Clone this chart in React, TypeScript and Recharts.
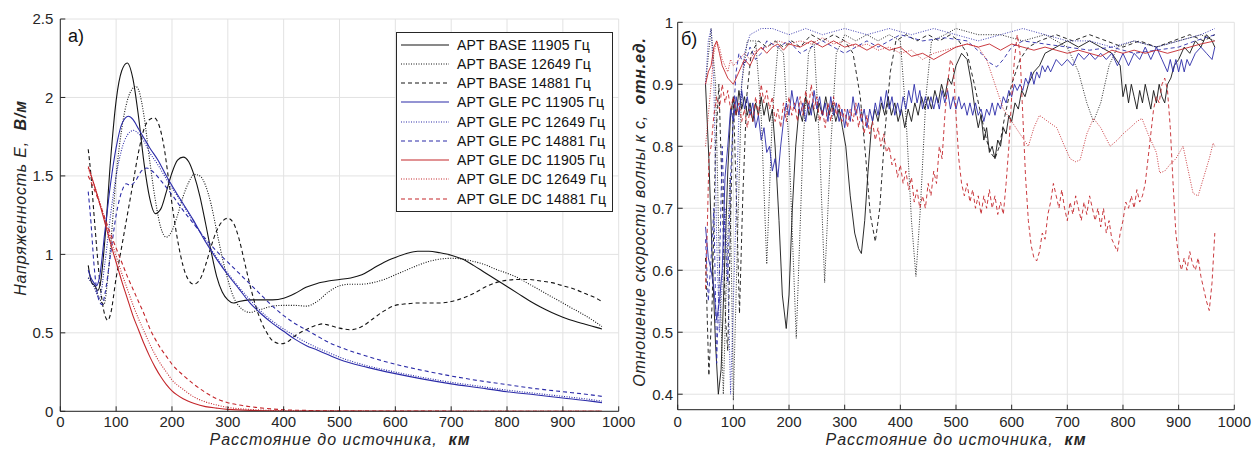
import { LineChart, Line, XAxis, YAxis, CartesianGrid } from 'recharts';

type Pt = [number, number];

const FONT = '"Liberation Sans", Arial, Helvetica, sans-serif';
const INK = '#262626';
const GRID = '#e2e2e2';
const BLACK = '#141414';
const BLUE = '#2b2ba8';
const RED = '#c4262b';

const KM_TICKS = [0, 100, 200, 300, 400, 500, 600, 700, 800, 900, 1000];
const E_TICKS = [0, 0.5, 1, 1.5, 2, 2.5];
const V_TICKS = [0.4, 0.5, 0.6, 0.7, 0.8, 0.9, 1];

const SERIES_NAMES = [
  'APT BASE 11905 Гц',
  'APT BASE 12649 Гц',
  'APT BASE 14881 Гц',
  'APT GLE PC 11905 Гц',
  'APT GLE PC 12649 Гц',
  'APT GLE PC 14881 Гц',
  'APT GLE DC 11905 Гц',
  'APT GLE DC 12649 Гц',
  'APT GLE DC 14881 Гц',
];
const SERIES_COLORS = [BLACK, BLACK, BLACK, BLUE, BLUE, BLUE, RED, RED, RED];
const SERIES_DASH = ['', '1 1.5', '4 3', '', '1 1.5', '4 3', '', '1 1.5', '4 3'];

// а) field strength E, V/m  [km, value]
const E_BASE_11905: Pt[] = [[50,0.93],[56,0.82],[62,0.8],[67,0.77],[72,0.82],[80,1.1],[90,1.6],[100,1.98],[110,2.17],[120,2.22],[130,2.12],[140,1.88],[150,1.58],[160,1.36],[170,1.26],[180,1.29],[190,1.4],[200,1.52],[210,1.6],[220,1.62],[230,1.59],[240,1.5],[250,1.37],[260,1.2],[270,1.02],[280,0.86],[290,0.76],[300,0.71],[310,0.69],[320,0.7],[340,0.71],[360,0.71],[380,0.71],[400,0.72],[420,0.75],[440,0.79],[460,0.815],[480,0.83],[500,0.84],[520,0.85],[540,0.87],[560,0.91],[580,0.95],[600,0.98],[620,1.005],[640,1.02],[660,1.02],[680,1.01],[700,0.995],[720,0.97],[740,0.93],[760,0.885],[780,0.84],[800,0.795],[820,0.75],[840,0.705],[860,0.665],[880,0.63],[900,0.6],[920,0.575],[940,0.555],[960,0.535],[970,0.525]];
const E_BASE_12649: Pt[] = [[50,0.85],[60,0.8],[70,0.72],[78,0.68],[85,0.85],[90,1.05],[100,1.5],[110,1.8],[120,1.98],[130,2.06],[135,2.07],[140,2.05],[150,1.88],[160,1.6],[170,1.35],[180,1.17],[190,1.11],[200,1.15],[210,1.25],[220,1.37],[230,1.46],[240,1.51],[250,1.5],[260,1.44],[270,1.32],[280,1.15],[290,0.98],[300,0.84],[310,0.73],[320,0.67],[330,0.64],[340,0.63],[350,0.64],[360,0.65],[380,0.67],[400,0.675],[420,0.675],[440,0.67],[460,0.7],[480,0.76],[500,0.8],[520,0.81],[540,0.81],[560,0.82],[580,0.84],[600,0.87],[620,0.9],[640,0.93],[660,0.955],[680,0.97],[700,0.975],[720,0.97],[740,0.955],[760,0.935],[780,0.905],[800,0.88],[820,0.85],[840,0.81],[860,0.77],[880,0.73],[900,0.69],[920,0.65],[940,0.61],[960,0.565],[970,0.54]];
const E_BASE_14881: Pt[] = [[50,1.67],[55,1.5],[60,1.27],[65,1.05],[70,0.85],[75,0.7],[80,0.61],[85,0.58],[90,0.62],[100,0.85],[110,1.05],[120,1.25],[130,1.45],[140,1.65],[150,1.8],[160,1.86],[168,1.87],[175,1.84],[185,1.7],[195,1.45],[205,1.2],[215,1.0],[225,0.87],[239,0.81],[250,0.84],[260,0.93],[270,1.05],[280,1.15],[290,1.21],[300,1.23],[310,1.2],[320,1.1],[330,0.95],[340,0.8],[350,0.67],[360,0.57],[370,0.5],[380,0.45],[395,0.43],[410,0.45],[420,0.48],[440,0.52],[460,0.55],[470,0.557],[480,0.55],[500,0.53],[520,0.52],[540,0.54],[560,0.59],[580,0.64],[600,0.675],[620,0.685],[640,0.69],[660,0.69],[680,0.69],[700,0.7],[720,0.72],[740,0.75],[760,0.79],[780,0.82],[800,0.835],[820,0.84],[840,0.84],[860,0.83],[880,0.82],[900,0.8],[920,0.78],[940,0.75],[960,0.72],[970,0.7]];
const E_PC_11905: Pt[] = [[50,0.9],[55,0.85],[60,0.82],[65,0.8],[70,0.85],[80,1.15],[90,1.45],[100,1.68],[110,1.83],[122,1.88],[130,1.86],[140,1.8],[150,1.74],[160,1.68],[175,1.6],[190,1.5],[210,1.38],[238,1.22],[260,1.08],[280,0.97],[300,0.87],[320,0.78],[340,0.69],[360,0.62],[380,0.56],[400,0.51],[420,0.46],[440,0.42],[460,0.39],[480,0.36],[500,0.33],[550,0.28],[600,0.24],[650,0.205],[700,0.175],[750,0.15],[800,0.125],[850,0.105],[900,0.085],[950,0.065],[970,0.055]];
const E_PC_12649: Pt[] = [[50,0.85],[60,0.8],[70,0.72],[80,0.95],[90,1.25],[100,1.5],[110,1.67],[120,1.76],[131,1.79],[140,1.77],[150,1.72],[160,1.65],[175,1.57],[190,1.48],[210,1.37],[240,1.2],[260,1.09],[280,0.98],[300,0.88],[320,0.79],[340,0.71],[360,0.635],[380,0.575],[400,0.525],[420,0.48],[440,0.44],[460,0.405],[480,0.375],[500,0.345],[550,0.29],[600,0.25],[650,0.215],[700,0.185],[750,0.16],[800,0.135],[850,0.115],[900,0.095],[950,0.075],[970,0.065]];
const E_PC_14881: Pt[] = [[50,1.4],[55,1.2],[60,0.95],[65,0.78],[70,0.7],[75,0.68],[80,0.75],[90,1.0],[100,1.25],[110,1.4],[118,1.45],[125,1.44],[135,1.47],[145,1.53],[155,1.55],[165,1.53],[180,1.47],[200,1.38],[220,1.28],[240,1.19],[260,1.1],[280,1.02],[300,0.95],[320,0.88],[340,0.81],[360,0.74],[380,0.67],[400,0.61],[420,0.56],[440,0.52],[460,0.48],[480,0.44],[500,0.41],[550,0.35],[600,0.3],[650,0.26],[700,0.225],[750,0.195],[800,0.17],[850,0.145],[900,0.125],[950,0.105],[970,0.095]];
const E_DC_11905: Pt[] = [[50,1.56],[60,1.45],[70,1.33],[80,1.2],[90,1.07],[100,0.95],[110,0.83],[120,0.72],[130,0.61],[140,0.52],[150,0.43],[160,0.35],[170,0.28],[180,0.22],[190,0.17],[200,0.13],[220,0.08],[240,0.05],[260,0.03],[280,0.02],[300,0.012],[350,0.005],[400,0.002],[500,0.001],[970,0]];
const E_DC_12649: Pt[] = [[50,1.55],[60,1.45],[70,1.34],[80,1.22],[90,1.1],[100,0.99],[110,0.88],[120,0.78],[130,0.68],[140,0.59],[150,0.51],[160,0.43],[170,0.36],[180,0.3],[190,0.25],[200,0.2],[220,0.14],[240,0.09],[260,0.06],[280,0.04],[300,0.025],[350,0.01],[400,0.004],[500,0.001],[970,0]];
const E_DC_14881: Pt[] = [[50,1.5],[60,1.42],[70,1.33],[80,1.23],[90,1.13],[100,1.04],[110,0.95],[120,0.86],[130,0.78],[140,0.7],[150,0.62],[160,0.53],[170,0.46],[180,0.4],[190,0.35],[200,0.3],[220,0.23],[240,0.17],[260,0.12],[280,0.08],[300,0.055],[320,0.04],[350,0.025],[400,0.01],[450,0.005],[500,0.002],[970,0]];

// б) wave velocity ratio to c  [km, value]
const V_BASE_11905: Pt[] = [[50,0.9],[56,0.78],[62,0.62],[68,0.48],[73,0.4],[78,0.44],[84,0.6],[90,0.76],[95,0.85],[100,0.88],[105,0.85],[110,0.89],[115,0.86],[120,0.88],[125,0.85],[130,0.87],[135,0.84],[140,0.87],[145,0.85],[150,0.88],[155,0.85],[160,0.87],[165,0.84],[170,0.86],[175,0.8],[182,0.68],[188,0.56],[195,0.506],[200,0.56],[206,0.7],[212,0.8],[218,0.86],[224,0.84],[230,0.88],[236,0.85],[242,0.87],[248,0.84],[254,0.87],[260,0.85],[266,0.88],[272,0.85],[278,0.87],[284,0.84],[290,0.86],[296,0.83],[302,0.8],[310,0.72],[318,0.66],[325,0.635],[330,0.627],[336,0.68],[342,0.76],[348,0.83],[354,0.86],[360,0.84],[366,0.87],[372,0.85],[378,0.88],[384,0.85],[390,0.87],[396,0.84],[402,0.86],[408,0.83],[414,0.86],[420,0.84],[426,0.87],[432,0.85],[438,0.88],[444,0.86],[450,0.88],[456,0.86],[462,0.89],[468,0.87],[474,0.9],[480,0.88],[486,0.91],[492,0.9],[500,0.93],[510,0.95],[520,0.94],[528,0.9],[534,0.86],[540,0.83],[545,0.85],[550,0.81],[555,0.83],[560,0.79],[565,0.8],[570,0.78],[575,0.81],[580,0.8],[585,0.83],[590,0.82],[595,0.85],[600,0.84],[606,0.87],[612,0.86],[618,0.89],[624,0.88],[630,0.9],[640,0.92],[650,0.93],[660,0.95],[680,0.96],[700,0.97],[720,0.96],[740,0.97],[760,0.96],[780,0.95],[795,0.93],[800,0.88],[805,0.9],[810,0.87],[815,0.9],[820,0.88],[825,0.86],[830,0.89],[835,0.87],[840,0.9],[845,0.88],[850,0.86],[855,0.89],[860,0.87],[865,0.9],[870,0.88],[875,0.87],[880,0.9],[886,0.91],[892,0.93],[900,0.94],[910,0.96],[920,0.95],[930,0.97],[940,0.96],[950,0.98],[960,0.97],[965,0.96]];
const V_BASE_12649: Pt[] = [[50,0.9],[60,0.99],[68,0.9],[75,0.6],[82,0.4],[88,0.6],[94,0.75],[100,0.39],[106,0.6],[115,0.9],[125,0.97],[140,0.97],[150,0.85],[160,0.61],[170,0.85],[180,0.96],[190,0.95],[200,0.8],[213,0.49],[225,0.8],[235,0.95],[245,0.97],[255,0.8],[264,0.58],[275,0.8],[285,0.95],[300,0.98],[320,0.97],[340,0.98],[360,0.97],[380,0.98],[400,0.97],[410,0.85],[420,0.68],[428,0.59],[436,0.7],[446,0.88],[456,0.97],[480,0.98],[500,0.99],[540,0.98],[580,0.98],[620,0.97],[660,0.98],[700,0.96],[720,0.92],[735,0.87],[747,0.84],[760,0.87],[775,0.93],[790,0.96],[820,0.97],[860,0.96],[900,0.97],[940,0.98],[965,0.97]];
const V_BASE_14881: Pt[] = [[50,0.62],[56,0.43],[62,0.55],[68,0.8],[74,0.9],[80,0.72],[86,0.52],[90,0.47],[95,0.68],[100,0.88],[106,0.7],[111,0.53],[117,0.72],[124,0.88],[132,0.95],[145,0.97],[160,0.96],[175,0.97],[190,0.96],[205,0.97],[220,0.96],[240,0.98],[260,0.97],[280,0.98],[300,0.97],[315,0.95],[328,0.88],[338,0.78],[346,0.69],[355,0.646],[363,0.7],[372,0.82],[382,0.92],[392,0.97],[410,0.98],[430,0.97],[450,0.98],[470,0.97],[490,0.98],[505,0.97],[520,0.95],[533,0.9],[545,0.85],[555,0.81],[562,0.79],[570,0.78],[578,0.8],[588,0.85],[600,0.9],[615,0.94],[630,0.96],[650,0.97],[680,0.98],[710,0.97],[740,0.98],[770,0.97],[800,0.96],[830,0.97],[860,0.96],[890,0.97],[920,0.98],[945,0.97],[965,0.98]];
const V_PC_11905: Pt[] = [[50,0.67],[55,0.62],[60,0.6],[65,0.57],[70,0.52],[75,0.55],[80,0.6],[85,0.75],[90,0.8],[95,0.86],[100,0.84],[105,0.88],[110,0.85],[115,0.89],[120,0.86],[125,0.88],[130,0.85],[135,0.87],[140,0.83],[145,0.85],[150,0.81],[155,0.83],[160,0.79],[165,0.8],[170,0.76],[175,0.78],[180,0.75],[185,0.8],[190,0.84],[195,0.87],[200,0.85],[205,0.89],[210,0.86],[215,0.88],[220,0.85],[225,0.87],[230,0.84],[235,0.87],[240,0.85],[245,0.89],[250,0.86],[255,0.88],[260,0.85],[265,0.87],[270,0.84],[275,0.88],[280,0.85],[285,0.87],[290,0.84],[295,0.86],[300,0.83],[305,0.86],[310,0.84],[315,0.88],[320,0.85],[325,0.87],[330,0.84],[335,0.86],[340,0.83],[345,0.86],[350,0.84],[355,0.87],[360,0.85],[365,0.88],[370,0.86],[375,0.89],[380,0.86],[385,0.88],[390,0.85],[395,0.87],[400,0.85],[405,0.88],[410,0.86],[415,0.89],[420,0.87],[425,0.9],[430,0.87],[435,0.89],[440,0.86],[445,0.88],[450,0.86],[455,0.88],[460,0.86],[465,0.88],[470,0.86],[475,0.89],[480,0.87],[485,0.89],[490,0.86],[495,0.88],[500,0.86],[505,0.88],[510,0.86],[515,0.87],[520,0.85],[525,0.87],[530,0.85],[535,0.87],[540,0.85],[545,0.86],[550,0.84],[555,0.86],[560,0.85],[565,0.87],[570,0.85],[575,0.87],[580,0.86],[585,0.88],[590,0.87],[595,0.89],[600,0.88],[605,0.9],[610,0.89],[615,0.9],[620,0.89],[625,0.91],[630,0.9],[635,0.92],[640,0.9],[645,0.92],[650,0.91],[655,0.93],[660,0.92],[665,0.93],[670,0.92],[680,0.94],[690,0.93],[700,0.94],[710,0.93],[720,0.95],[730,0.94],[740,0.95],[750,0.94],[760,0.95],[770,0.94],[780,0.95],[790,0.93],[800,0.95],[810,0.93],[820,0.95],[830,0.94],[840,0.96],[850,0.94],[860,0.96],[870,0.94],[880,0.92],[885,0.94],[890,0.92],[895,0.94],[900,0.92],[905,0.94],[910,0.92],[915,0.94],[920,0.93],[930,0.95],[940,0.96],[950,0.95],[960,0.94],[965,0.96]];
const V_PC_12649: Pt[] = [[50,0.9],[55,0.97],[60,0.99],[65,0.9],[70,0.65],[75,0.5],[80,0.58],[85,0.7],[90,0.6],[95,0.4],[100,0.55],[110,0.85],[120,0.95],[130,0.98],[150,0.99],[170,0.99],[200,0.98],[230,0.99],[260,0.98],[300,0.99],[340,0.98],[380,0.99],[420,0.98],[460,0.99],[500,0.98],[540,0.97],[580,0.98],[620,0.99],[660,0.98],[700,0.97],[740,0.97],[780,0.96],[820,0.97],[860,0.96],[900,0.97],[940,0.98],[965,0.99]];
const V_PC_14881: Pt[] = [[50,0.65],[55,0.55],[60,0.62],[65,0.7],[70,0.45],[75,0.6],[80,0.8],[85,0.65],[90,0.58],[95,0.75],[100,0.85],[105,0.92],[110,0.95],[120,0.93],[130,0.96],[140,0.94],[150,0.95],[160,0.97],[180,0.96],[200,0.97],[220,0.95],[240,0.96],[260,0.97],[280,0.96],[300,0.95],[320,0.96],[340,0.97],[360,0.96],[380,0.97],[400,0.98],[440,0.97],[480,0.975],[520,0.97],[545,0.95],[560,0.935],[573,0.928],[585,0.94],[600,0.96],[620,0.97],[660,0.965],[700,0.96],[740,0.955],[780,0.96],[820,0.95],[860,0.955],[900,0.96],[930,0.97],[965,0.98]];
const V_DC_11905: Pt[] = [[50,0.9],[55,0.92],[60,0.93],[65,0.96],[70,0.97],[75,0.95],[80,0.93],[90,0.91],[100,0.9],[110,0.92],[120,0.94],[130,0.93],[140,0.95],[150,0.96],[160,0.95],[170,0.96],[180,0.965],[190,0.955],[200,0.965],[220,0.96],[240,0.97],[260,0.96],[280,0.97],[300,0.96],[320,0.965],[340,0.955],[360,0.965],[380,0.955],[400,0.96],[420,0.945],[440,0.95],[460,0.94],[480,0.95],[500,0.96],[520,0.965],[540,0.96],[560,0.965],[580,0.955],[600,0.965],[620,0.96],[640,0.955],[660,0.96],[680,0.955],[700,0.95],[720,0.955],[740,0.95],[760,0.945],[780,0.955],[800,0.95],[820,0.955],[840,0.95],[860,0.955],[880,0.95],[900,0.955],[920,0.96],[940,0.965],[965,0.97]];
const V_DC_12649: Pt[] = [[50,0.8],[55,0.85],[60,0.9],[65,0.95],[70,0.97],[75,0.96],[80,0.94],[85,0.93],[90,0.92],[95,0.94],[100,0.93],[110,0.94],[120,0.95],[130,0.94],[140,0.955],[160,0.96],[180,0.97],[200,0.965],[220,0.97],[240,0.965],[260,0.975],[280,0.965],[300,0.97],[320,0.96],[340,0.965],[360,0.955],[380,0.96],[400,0.95],[420,0.955],[440,0.94],[460,0.95],[480,0.955],[500,0.96],[520,0.965],[540,0.96],[555,0.94],[570,0.9],[585,0.86],[600,0.84],[615,0.82],[630,0.8],[640,0.83],[650,0.85],[665,0.84],[681,0.83],[695,0.8],[705,0.78],[715,0.775],[723,0.778],[735,0.82],[747,0.845],[760,0.83],[777,0.8],[790,0.81],[800,0.82],[813,0.83],[825,0.84],[834,0.845],[845,0.82],[860,0.79],[866,0.757],[875,0.76],[884,0.77],[895,0.78],[908,0.8],[915,0.77],[926,0.724],[935,0.72],[945,0.75],[955,0.78],[962,0.805],[965,0.8]];
const V_DC_14881: Pt[] = [[50,0.57],[53,0.66],[56,0.78],[60,0.8],[65,0.85],[70,0.88],[75,0.86],[80,0.9],[85,0.87],[90,0.89],[95,0.86],[100,0.88],[105,0.85],[110,0.87],[115,0.84],[120,0.86],[125,0.83],[130,0.86],[135,0.84],[140,0.88],[145,0.85],[150,0.9],[155,0.87],[160,0.89],[165,0.86],[170,0.88],[175,0.84],[180,0.86],[185,0.83],[190,0.87],[195,0.84],[200,0.88],[205,0.85],[210,0.87],[215,0.84],[220,0.88],[225,0.85],[230,0.89],[235,0.86],[240,0.9],[245,0.86],[250,0.88],[255,0.84],[260,0.86],[265,0.83],[270,0.87],[275,0.84],[280,0.88],[285,0.85],[290,0.87],[295,0.84],[300,0.86],[305,0.83],[310,0.86],[315,0.84],[320,0.87],[325,0.83],[330,0.86],[335,0.82],[340,0.85],[345,0.82],[350,0.84],[355,0.81],[360,0.83],[365,0.8],[370,0.82],[375,0.79],[380,0.8],[385,0.77],[390,0.78],[395,0.75],[400,0.77],[405,0.74],[410,0.76],[415,0.73],[420,0.75],[425,0.71],[430,0.73],[435,0.7],[440,0.72],[445,0.7],[450,0.74],[455,0.72],[460,0.76],[465,0.74],[470,0.8],[475,0.78],[480,0.85],[485,0.9],[490,0.94],[495,0.93],[500,0.85],[505,0.78],[510,0.74],[515,0.72],[520,0.74],[525,0.71],[530,0.73],[535,0.7],[540,0.72],[545,0.69],[550,0.72],[555,0.7],[560,0.73],[565,0.7],[570,0.72],[575,0.69],[580,0.71],[585,0.69],[590,0.74],[595,0.8],[600,0.88],[605,0.94],[610,0.98],[615,0.95],[620,0.85],[625,0.75],[630,0.68],[635,0.64],[640,0.62],[645,0.615],[650,0.63],[655,0.66],[660,0.65],[665,0.69],[670,0.71],[675,0.74],[680,0.72],[685,0.7],[690,0.73],[695,0.7],[700,0.68],[705,0.71],[710,0.69],[715,0.72],[720,0.7],[725,0.68],[730,0.71],[735,0.69],[740,0.72],[745,0.7],[750,0.68],[755,0.7],[760,0.67],[765,0.7],[770,0.66],[775,0.68],[780,0.65],[785,0.64],[790,0.63],[795,0.66],[800,0.68],[805,0.71],[810,0.7],[815,0.72],[820,0.7],[825,0.73],[830,0.71],[835,0.72],[840,0.74],[845,0.78],[850,0.82],[855,0.86],[860,0.88],[865,0.87],[870,0.9],[875,0.91],[880,0.89],[885,0.83],[890,0.74],[895,0.66],[900,0.62],[905,0.6],[910,0.62],[915,0.6],[920,0.63],[925,0.61],[930,0.6],[935,0.62],[940,0.59],[945,0.57],[950,0.55],[955,0.535],[960,0.58],[965,0.66]];

const FIELD_SERIES = [E_BASE_11905, E_BASE_12649, E_BASE_14881, E_PC_11905, E_PC_12649, E_PC_14881, E_DC_11905, E_DC_12649, E_DC_14881];
const SPEED_SERIES = [V_BASE_11905, V_BASE_12649, V_BASE_14881, V_PC_11905, V_PC_12649, V_PC_14881, V_DC_11905, V_DC_12649, V_DC_14881];

const toXY = (pts: Pt[]) => pts.map(([x, y]) => ({ x, y }));

const tickFont = { fill: INK, fontSize: 15, fontFamily: FONT };

// bottom/left axes with labels, plus top/right axes that only close the box
function frame(domainY: number[], ticksY: number[], xHeight: number, yWidth: number, xMargin: number, yMargin: number) {
  return [
    <CartesianGrid key="grid" stroke={GRID} />,
    <XAxis key="xb" type="number" dataKey="x" domain={[0, 1000]} ticks={KM_TICKS} interval={0}
      height={xHeight} tickSize={-5} tickMargin={xMargin} tick={tickFont}
      axisLine={{ stroke: INK }} tickLine={{ stroke: INK }} allowDataOverflow />,
    <XAxis key="xt" xAxisId="top" orientation="top" type="number" domain={[0, 1000]} ticks={KM_TICKS}
      interval={0} height={0} tickSize={-5} tick={false}
      axisLine={{ stroke: INK }} tickLine={{ stroke: INK }} allowDataOverflow />,
    <YAxis key="yl" type="number" domain={domainY} ticks={ticksY} interval={0}
      width={yWidth} tickSize={-5} tickMargin={yMargin} tick={tickFont}
      axisLine={{ stroke: INK }} tickLine={{ stroke: INK }} allowDataOverflow />,
    <YAxis key="yr" yAxisId="right" orientation="right" type="number" domain={domainY} ticks={ticksY}
      interval={0} width={0} tickSize={-5} tick={false}
      axisLine={{ stroke: INK }} tickLine={{ stroke: INK }} allowDataOverflow />,
  ];
}

function lines(series: Pt[][], curve: 'monotone' | 'linear', width: number) {
  return series.map((pts, i) => (
    <Line key={SERIES_NAMES[i]} data={toXY(pts)} dataKey="y" name={SERIES_NAMES[i]}
      type={curve} stroke={SERIES_COLORS[i]} strokeWidth={width}
      strokeDasharray={SERIES_DASH[i] || undefined} dot={false} activeDot={false}
      isAnimationActive={false} />
  ));
}

const abs = (left: number, top: number): React.CSSProperties => ({ position: 'absolute', left, top });

function VTitle({ cx, cy, text, unit }: { cx: number; cy: number; text: string; unit: string }) {
  return (
    <div style={{ ...abs(cx, cy), transform: 'translate(-50%, -50%) rotate(-90deg)', whiteSpace: 'nowrap',
      fontSize: 16, lineHeight: 1, fontStyle: 'italic', color: INK, letterSpacing: 0.8 }}>
      {text}&nbsp;&nbsp;<b>{unit}</b>
    </div>
  );
}

function HTitle({ cx, cy }: { cx: number; cy: number }) {
  return (
    <div style={{ ...abs(cx, cy), transform: 'translate(-50%, -50%)', whiteSpace: 'nowrap',
      fontSize: 16, lineHeight: 1, fontStyle: 'italic', color: INK, letterSpacing: 1 }}>
      Расстояние до источника,&nbsp;&nbsp;<b>км</b>
    </div>
  );
}

function LegendBox() {
  return (
    <div style={{ ...abs(396, 32), width: 217, height: 180, border: `1px solid ${INK}`, background: '#fff',
      paddingTop: 2, boxSizing: 'border-box' }}>
      {SERIES_NAMES.map((name, i) => (
        <div key={name} style={{ display: 'flex', alignItems: 'center', height: 19.25 }}>
          <svg width={52} height={6} style={{ marginLeft: 4, marginRight: 4 }}>
            <line x1={0} y1={3} x2={48} y2={3} stroke={SERIES_COLORS[i]} strokeWidth={1.1}
              strokeDasharray={SERIES_DASH[i] || undefined} />
          </svg>
          <span style={{ fontSize: 14, color: '#111', whiteSpace: 'nowrap', letterSpacing: 0.2 }}>{name}</span>
        </div>
      ))}
    </div>
  );
}

export default function App() {
  return (
    <div style={{ ...abs(0, 0), width: 1253, height: 452, background: '#fff', fontFamily: FONT, overflow: 'hidden' }}>
      <div style={abs(0, 0)}>
        <LineChart width={640} height={452} margin={{ top: 19, right: 21.3, bottom: 0, left: 0 }}>
          {frame([0, 2.5], E_TICKS, 40.7, 60.3, 10.4, 12)}
          {lines(FIELD_SERIES, 'monotone', 1.1)}
        </LineChart>
      </div>
      <div style={abs(620, 0)}>
        <LineChart width={633} height={452} margin={{ top: 22.3, right: 18.7, bottom: 0, left: 0 }}>
          {frame([0.375, 1], V_TICKS, 42.3, 57.7, 12, 9.7)}
          {lines(SPEED_SERIES, 'linear', 0.9)}
        </LineChart>
      </div>

      <LegendBox />
      <div style={{ ...abs(68, 26), fontSize: 18, color: '#111' }}>a)</div>
      <div style={{ ...abs(681, 29), fontSize: 18, color: '#111' }}>б)</div>

      <VTitle cx={21} cy={198} text="Напряженность E," unit="В/м" />
      <VTitle cx={640} cy={212} text="Отношение скорости волны к c," unit="отн.ед." />
      <HTitle cx={340} cy={440} />
      <HTitle cx={956} cy={440} />
    </div>
  );
}
